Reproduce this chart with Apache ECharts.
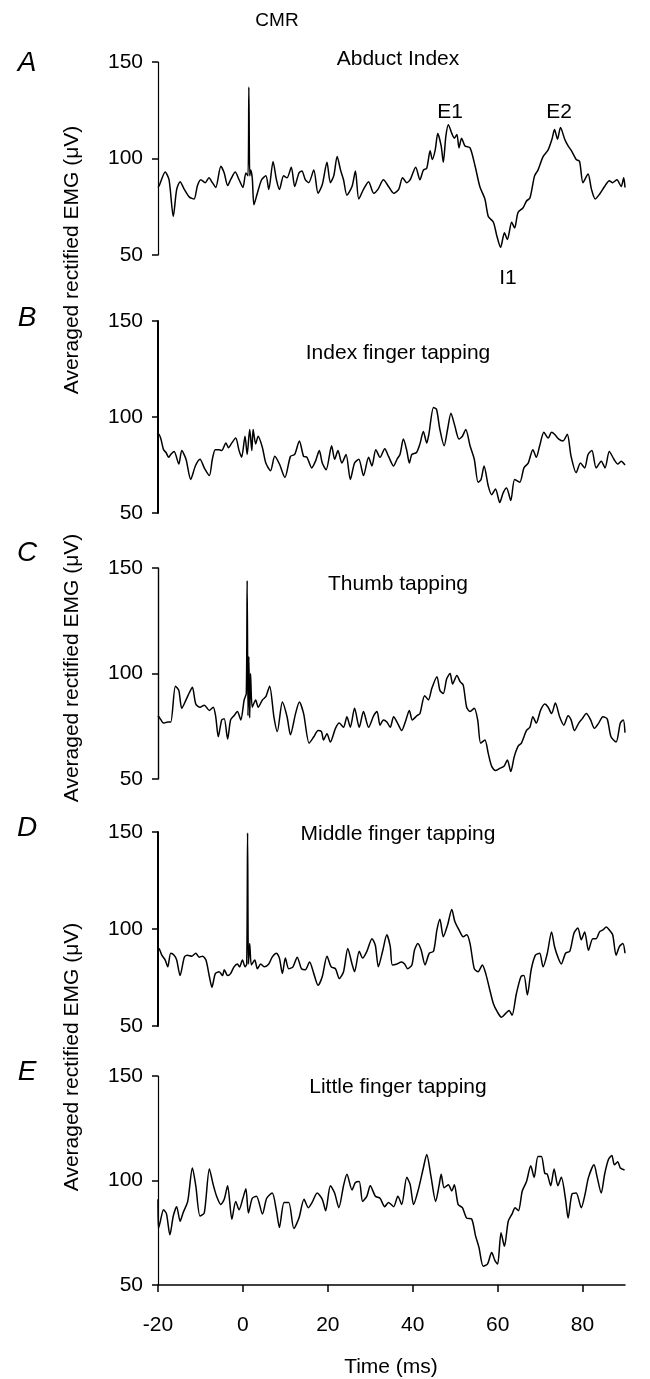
<!DOCTYPE html>
<html>
<head>
<meta charset="utf-8">
<script src="https://cdn.jsdelivr.net/npm/echarts@6/dist/echarts.min.js"></script>
<style>
  html, body { margin: 0; padding: 0; background: #fff; }
  #main { width: 650px; height: 1379px; }
</style>
</head>
<body>
<div id="main"></div>
<script>
const chart = echarts.init(document.getElementById('main'));

// time (ms) / averaged rectified EMG (uV)
const traceA = [[-20, 85], [-19.7, 86], [-18.3, 93], [-17.4, 89], [-16.4, 70], [-15.6, 84], [-14.8, 88], [-13.8, 84], [-12.6, 80], [-11.5, 79], [-10.7, 86], [-9.9, 89], [-8.9, 87.5], [-8.0, 90], [-7.2, 87.5], [-6.4, 85], [-5.2, 96], [-4.4, 92.5], [-3.6, 86], [-2.9, 89], [-1.8, 93], [-0.9, 89], [0.0, 85], [0.7, 92.5], [1.2, 91], [1.4, 137], [1.6, 91], [1.8, 94], [2.2, 90], [2.6, 76], [3.4, 82], [4.4, 89], [5.4, 91], [6.1, 84], [7.1, 98.5], [7.9, 89], [8.6, 84], [9.6, 91], [10.4, 90], [11.4, 95.5], [12.2, 85.5], [13.2, 92.5], [13.9, 93.5], [14.7, 89], [15.5, 87.5], [16.7, 94], [17.7, 82], [18.7, 86.5], [19.8, 98], [20.6, 87.5], [21.4, 91], [22.2, 101], [23.0, 94], [23.7, 89], [24.5, 81], [25.7, 85.5], [26.5, 93.5], [27.3, 79], [28.4, 84], [29.6, 88], [30.8, 82], [31.8, 84], [33.1, 89], [34.3, 85.5], [35.5, 82], [36.7, 84], [37.6, 90], [38.6, 87.5], [39.4, 89], [40.7, 95.5], [41.7, 89], [42.5, 94], [43.3, 95], [44.1, 104], [44.6, 99.5], [45.3, 104.5], [45.9, 113], [46.7, 106.5], [47.2, 98], [47.8, 111.5], [48.4, 117.5], [49.2, 113], [49.8, 110.5], [50.4, 112.5], [50.9, 105.5], [51.5, 110.5], [52.3, 106.5], [53.5, 105.5], [54.7, 96], [55.8, 85.5], [57.0, 79], [57.8, 70], [59.0, 67], [59.8, 60], [60.7, 54], [61.6, 61.5], [62.3, 58], [63.3, 67], [64.0, 64], [64.8, 72], [66.0, 74.5], [66.8, 78], [67.6, 79.5], [68.7, 91], [69.5, 94], [70.7, 101], [71.9, 104.5], [72.8, 110], [73.4, 115], [74.1, 110], [74.8, 116], [75.8, 110], [76.6, 106.5], [77.4, 104], [78.5, 99.5], [79.3, 98.5], [80.1, 87.5], [81.3, 92], [82.1, 84], [83.0, 79], [84.0, 81.5], [85.2, 85.5], [86.3, 88.5], [87.1, 87.5], [88.1, 89], [89.1, 85.5], [89.7, 90], [90, 85]];

const traceB = [[-20, 90], [-19.8, 91], [-19.3, 88.4], [-18.7, 83], [-18.1, 81.5], [-17.5, 79], [-17, 80.5], [-16.2, 82], [-15.1, 75.5], [-14.4, 82.5], [-13.4, 78], [-12.3, 67.5], [-11.2, 74.5], [-10.1, 78], [-9.1, 73.5], [-7.9, 69.5], [-7.2, 78], [-6.5, 83], [-5.6, 83], [-5, 82.5], [-4, 86.5], [-3.4, 84], [-2.6, 86.5], [-1.7, 89], [-0.9, 82.5], [-0.3, 79], [0.5, 90], [1.0, 80.5], [1.6, 93.5], [2.1, 82.5], [2.4, 93.5], [3.0, 86], [3.6, 90], [4.6, 84], [5.4, 76], [6.5, 72], [7.5, 79.5], [8.6, 75.5], [9.9, 68.5], [11.2, 79.5], [12.2, 80.5], [13.3, 87.5], [14.3, 79.5], [15.1, 79], [16.2, 73.5], [17.1, 77], [18, 82.5], [18.7, 76], [19.6, 72.5], [20.9, 85], [21.6, 78], [22.4, 82.5], [23.3, 76], [24.3, 80.5], [25.3, 67.5], [26.3, 76], [27.3, 78], [28.4, 69.5], [29.6, 79], [30.4, 74.5], [31.3, 83], [32.3, 79], [33.4, 83.5], [34.3, 79.5], [35.5, 74.5], [36.3, 78], [37, 80.5], [37.8, 88.5], [38.6, 82.5], [39.2, 76], [39.8, 80.5], [40.9, 81.5], [41.7, 86], [42.5, 92.5], [43.3, 86.5], [43.8, 91], [44.9, 105], [45.6, 104], [46.4, 93.5], [47.4, 85], [48.2, 93.5], [49, 102], [49.9, 95.5], [50.9, 88.5], [51.7, 90], [52.5, 93.5], [53.5, 85], [54.5, 78], [55.4, 66], [56.1, 67.5], [56.8, 74.5], [57.8, 64], [58.6, 59.5], [59.5, 62.5], [60.5, 55.5], [61.3, 60.5], [62.1, 63], [63.1, 56.5], [64, 67.5], [65.2, 66], [66.2, 73.5], [67.2, 76], [68.3, 83], [69.1, 79], [69.9, 85], [70.9, 92], [71.9, 89], [72.7, 92], [73.4, 91], [74.4, 88.5], [75.4, 87.5], [76.4, 91], [77.3, 79.5], [78.5, 71], [79.5, 76], [80.5, 73.5], [81.3, 80.5], [82.2, 82.5], [83.2, 73.5], [84.4, 77], [85.3, 73.5], [86.3, 82], [87.4, 78], [88.3, 75.5], [89.1, 77], [90, 75]];

const traceC = [[-20, 80], [-19.8, 79.5], [-19.3, 78], [-18.7, 76.5], [-17.7, 77], [-17, 77], [-15.9, 94], [-15.1, 92], [-14.4, 83.5], [-13.4, 87.5], [-12.6, 91], [-11.9, 93.5], [-11.1, 85.5], [-10.1, 84], [-9.1, 85], [-7.9, 82.5], [-7, 84], [-6.4, 79.5], [-5.8, 70], [-5, 78], [-4.4, 78.5], [-3.6, 69], [-2.9, 78], [-2.1, 80], [-1.3, 82], [-0.5, 78], [0.3, 87.5], [0.8, 90.5], [1.0, 144], [1.2, 80], [1.4, 108], [1.6, 79], [1.8, 100], [2.2, 84], [3, 87.5], [3.6, 84], [4.6, 87.5], [5.4, 89], [6.3, 94], [7.3, 79.5], [8.1, 72.5], [9.3, 86.5], [10.4, 79.5], [11.2, 71], [12.4, 81], [13.3, 86.5], [14.3, 81], [15.6, 67], [16.7, 70], [17.7, 73], [18.5, 72.5], [19, 68.5], [19.8, 71.5], [20.6, 67.5], [21.8, 74], [22.7, 76.5], [23.7, 74.5], [24.5, 79.5], [25.3, 74.5], [26.3, 83.5], [27.4, 74.5], [28.4, 82], [29.6, 74.5], [30.8, 80], [31.6, 82], [32.3, 75.5], [33.1, 78], [33.9, 77], [34.7, 74.5], [35.5, 79.5], [36.3, 77], [37.4, 73], [38.4, 78], [39.2, 82.5], [39.9, 78], [41, 80], [41.7, 81], [42.8, 89.5], [43.7, 87.5], [44.5, 93], [45.7, 98.5], [46.4, 92], [47.2, 90.5], [48, 97.5], [48.8, 100], [49.4, 95], [50.4, 99], [51.2, 96], [51.9, 94.5], [52.7, 84], [53.5, 82], [54.5, 83.5], [55.3, 78], [56, 67], [57, 68.5], [57.8, 62], [58.6, 56], [59.5, 54], [60.5, 55], [61.5, 56], [62.3, 59], [63.1, 53.5], [63.9, 60.5], [64.8, 65.5], [65.6, 67], [66.8, 73], [67.6, 74.5], [68.3, 79.5], [69.1, 76.5], [70.1, 82.5], [71.1, 85.5], [71.9, 84], [72.7, 81], [73.6, 86], [74.6, 79.5], [75.6, 75.5], [76.6, 80], [77.3, 78], [78.1, 73], [79.1, 76.5], [79.9, 78.5], [80.9, 81], [81.9, 78], [82.8, 74], [83.8, 76.5], [84.8, 79.5], [85.8, 78.5], [86.7, 70], [87.9, 67.5], [88.9, 76.5], [89.6, 78], [90, 72]];

const traceD = [[-20, 90], [-19.8, 90], [-19.1, 86.5], [-18.3, 84], [-17.7, 80.5], [-17, 87.5], [-16.2, 86.5], [-15.6, 84], [-14.8, 76], [-13.8, 85.5], [-13.1, 86.5], [-12, 86], [-11.1, 87.5], [-10.3, 85.5], [-9.5, 86], [-8.7, 84], [-7.9, 75.5], [-7.3, 70], [-6.5, 77], [-5.6, 78], [-4.8, 76], [-4.4, 79], [-3.6, 76], [-2.9, 77], [-2.1, 80.5], [-1.3, 82], [-0.8, 80.5], [-0.1, 84], [0.5, 80.5], [0.9, 82], [1.1, 149.5], [1.3, 82], [1.6, 92.5], [2.0, 81.5], [2.8, 84], [3.4, 79.5], [4.2, 82], [5, 80.5], [6.1, 82], [6.9, 85.5], [7.9, 87.5], [8.6, 85], [9.3, 77], [10, 85], [10.8, 79.5], [11.8, 80.5], [12.8, 85.5], [13.8, 79.5], [14.7, 79], [15.7, 83], [16.7, 77], [17.7, 71], [18.7, 75.5], [19.8, 86], [20.8, 80.5], [21.8, 79.5], [22.7, 74.5], [23.7, 78], [24.7, 90], [25.7, 82], [26.3, 78], [27.4, 88.5], [28.2, 85], [29.2, 88.5], [30.4, 95], [31.2, 91.5], [31.9, 80.5], [32.9, 88.5], [33.9, 97], [34.7, 91], [35.2, 81.5], [36.3, 82], [37.3, 83], [38.1, 82], [38.8, 79.5], [39.8, 81.5], [40.4, 89], [41.2, 92.5], [42, 89], [42.9, 81.5], [43.9, 87.5], [44.9, 88.5], [45.7, 99.5], [46.4, 105], [47.2, 96], [48.2, 102], [49.2, 110], [49.9, 104], [50.9, 99.5], [51.9, 96], [52.7, 97], [53.5, 92.5], [54.5, 79.5], [55.4, 78], [56.4, 81.5], [57.2, 77], [58, 70], [59, 61.5], [60, 57], [60.9, 54.5], [61.9, 56.5], [62.7, 58], [63.4, 55.5], [64.4, 66.5], [65.5, 75.5], [66.2, 76], [67, 66], [67.9, 79], [68.9, 86.5], [69.9, 87.5], [70.7, 80.5], [71.7, 87.5], [72.7, 98.5], [73.4, 91], [74.2, 85.5], [75, 82], [76, 87.5], [77, 88.5], [78, 98], [78.9, 100.5], [79.7, 94.5], [80.5, 98.5], [81.4, 89], [82.4, 95], [83.2, 95], [84, 98.5], [84.8, 99.5], [85.6, 101], [86.3, 99.5], [87.1, 97], [87.9, 86.5], [88.7, 91], [89.5, 92.5], [90, 87.5]];

const traceE = [[-20, 91], [-19.9, 77], [-19.5, 80], [-18.7, 86], [-18, 84], [-17.2, 74], [-16.4, 83], [-15.6, 87.5], [-14.8, 80.5], [-14.1, 84.5], [-13, 90], [-11.9, 106], [-11.1, 97.5], [-10.1, 83], [-9.1, 84.5], [-7.9, 105.5], [-7, 98], [-6.2, 92.5], [-5.2, 88.5], [-4.4, 91], [-3.6, 97.5], [-2.6, 81.5], [-1.7, 90], [-0.9, 86], [0, 91.5], [0.7, 96], [1.3, 84.5], [2.2, 91.5], [3.2, 92.5], [4.6, 84], [5.6, 91.5], [6.9, 94], [7.9, 85.5], [8.6, 77.5], [9.7, 89.5], [10.8, 89.5], [12, 77], [13.2, 82], [14.4, 91], [15.4, 87], [16.3, 89.5], [17.5, 94], [18.7, 91], [19.5, 85.5], [20.6, 97.5], [21.6, 94], [22.6, 87], [23.7, 97.5], [24.5, 103], [25.7, 95.5], [26.5, 99], [27.4, 99.5], [28.2, 90], [29.2, 92.5], [30, 97.5], [31.2, 92.5], [32.3, 91.5], [33.4, 87.5], [34.3, 89.5], [35.5, 87.5], [36.5, 92.5], [37.4, 88.5], [38.6, 101.5], [39.4, 98], [40.2, 88.5], [41.3, 95.5], [42.5, 106], [43.3, 112.5], [44.3, 102], [45.4, 90], [46.2, 97.5], [46.7, 103], [47.4, 96.5], [48.4, 98], [49.2, 95], [49.8, 98], [50.7, 88.5], [51.7, 87], [52.7, 82], [53.9, 81.5], [54.8, 73.5], [55.6, 68], [56.6, 59], [57.6, 60], [58.6, 65.5], [59.4, 61.5], [60, 60], [60.8, 75], [61.6, 68.5], [62.5, 80.5], [63.4, 84], [64.1, 87], [64.9, 85.5], [65.8, 95], [66.8, 99.5], [67.8, 107], [68.6, 101.5], [69.5, 111.5], [70.3, 111.5], [71.1, 103.5], [71.7, 103], [72.5, 97.5], [73.3, 105.5], [74.2, 97.5], [75, 101.5], [76, 91], [76.6, 82], [77.5, 93.5], [78.5, 94], [79.7, 87], [80.6, 93.5], [81.4, 101.5], [82.7, 107.5], [83.4, 102], [84.4, 94], [85.2, 103], [86.1, 110], [86.9, 112], [87.5, 107.5], [88.3, 109], [88.9, 106], [89.9, 105]];

const panelLetters = ['A', 'B', 'C', 'D', 'E'];
const panelTitles = ['Abduct Index', 'Index finger tapping', 'Thumb tapping', 'Middle finger tapping', 'Little finger tapping'];
const yTicks = [50, 100, 150];
const xTicks = [-20, 0, 20, 40, 60, 80];

const traces = [traceA, traceB, traceC, traceD, traceE];
// panel boxes in px and the odd per-panel axis weight of the scan
const panels = [
  { top: 62, height: 193, axisWidth: 1.2, letterY: 63, titleY: 59 },
  { top: 321, height: 192, axisWidth: 2, letterY: 318, titleY: 353 },
  { top: 568, height: 211, axisWidth: 1.4, letterY: 553, titleY: 584 },
  { top: 832, height: 194, axisWidth: 2, letterY: 828, titleY: 834 },
  { top: 1076, height: 209, axisWidth: 1.2, letterY: 1072, titleY: 1087 }
];

const FONT = '"Liberation Sans", Arial, Helvetica, sans-serif';
const LEFT = 158;
const WIDTH = 467;

function txt(text, x, y, size, extra) {
  return Object.assign({
    type: 'text',
    x: x,
    y: y,
    silent: true,
    style: {
      text: text,
      fontSize: size,
      fontFamily: FONT,
      fill: '#000',
      textAlign: 'center',
      textVerticalAlign: 'middle',
      align: 'center',
      verticalAlign: 'middle'
    }
  }, extra || {});
}

const graphics = [txt('CMR', 277, 21, 19)];
panels.forEach((p, i) => {
  const letter = txt(panelLetters[i], 27, p.letterY, 28);
  letter.style.fontStyle = 'italic';
  graphics.push(letter);
  graphics.push(txt(panelTitles[i], 398, p.titleY, 21));
});
graphics.push(txt('E1', 450, 112, 21));
graphics.push(txt('E2', 559, 112, 21));
graphics.push(txt('I1', 508, 278, 21));
graphics.push(txt('Time (ms)', 391, 1367, 21));
[260, 668, 1057].forEach(cy => {
  graphics.push(txt('Averaged rectified EMG (\u03bcV)', 72, cy, 21, { rotation: Math.PI / 2 }));
});

const grid = panels.map(p => ({ left: LEFT, width: WIDTH, top: p.top, height: p.height }));

const xAxis = panels.map((p, i) => {
  const last = i === panels.length - 1;
  return {
    type: 'value',
    gridIndex: i,
    min: -20,
    max: 90,
    interval: 20,
    show: last,
    axisLine: { show: last, onZero: false, lineStyle: { color: '#000', width: 1.5 } },
    axisTick: {
      show: last,
      length: 7,
      lineStyle: { color: '#000', width: 1.5 },
      customValues: xTicks
    },
    axisLabel: {
      show: last,
      color: '#000',
      fontSize: 21,
      fontFamily: FONT,
      margin: 30,
      customValues: xTicks
    },
    splitLine: { show: false }
  };
});

const yAxis = panels.map((p, i) => ({
  type: 'value',
  gridIndex: i,
  min: 50,
  max: 150,
  interval: 50,
  axisLine: { show: true, onZero: false, lineStyle: { color: '#000', width: p.axisWidth } },
  axisTick: { show: true, length: 6, lineStyle: { color: '#000', width: 1.5 }, customValues: yTicks },
  axisLabel: { color: '#000', fontSize: 21, fontFamily: FONT, margin: 15, customValues: yTicks },
  splitLine: { show: false }
}));

const series = traces.map((data, i) => ({
  type: 'line',
  xAxisIndex: i,
  yAxisIndex: i,
  data: data,
  showSymbol: false,
  silent: true,
  clip: false,
  smooth: 0.25,
  lineStyle: { color: '#000', width: 1.5 }
}));

chart.setOption({
  animation: false,
  backgroundColor: '#fff',
  grid: grid,
  xAxis: xAxis,
  yAxis: yAxis,
  series: series,
  graphic: graphics
});
</script>
</body>
</html>
